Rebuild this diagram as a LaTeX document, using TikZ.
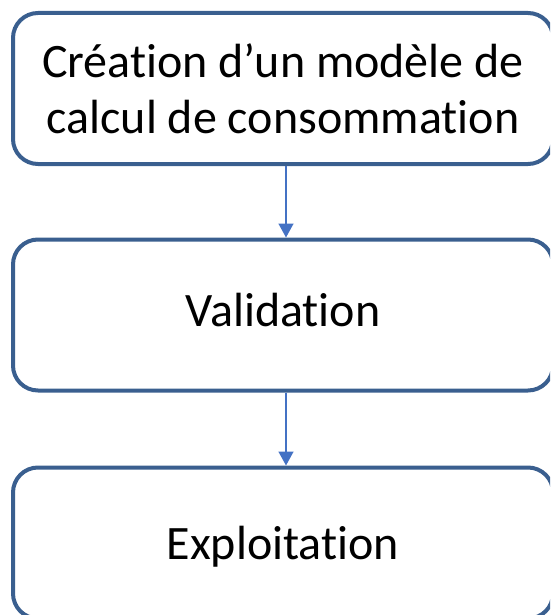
\documentclass[tikz,border=0pt]{standalone}
\usepackage{fontspec}
\setmainfont[Ligatures=NoCommon,RawFeature={-liga;-clig;-dlig}]{Carlito}
\usetikzlibrary{arrows.meta}
\definecolor{boxc}{HTML}{3A5F8F}
\definecolor{arr}{HTML}{4472C4}
\begin{document}
\begin{tikzpicture}[x=1pt,y=-1pt]
\useasboundingbox (0,0) rectangle (550,615);
\clip (0,0) rectangle (550,615);
\tikzset{
  box/.style={draw=boxc, line width=4pt, rounded corners=25pt, minimum width=540pt, minimum height=151pt, align=center, font=\fontsize{48}{56}\selectfont, inner sep=0pt, text=black},
  conn/.style={draw=arr, line width=1.5pt, -{Triangle[length=14pt,width=15pt]}}
}
\node[box] (a) at (283,88.5) {Créat\kern0pt ion d’un modèle de\\calcul de consommat\kern0pt ion};
\node[box] (b) at (283,315) {\raisebox{5pt}[\height][\depth]{Validat\kern0pt ion}};
\node[box] (c) at (283,543) {\raisebox{-4pt}[\height][\depth]{Exploitat\kern0pt ion}};
\draw[conn] (a.south -| 286,0) -- (b.north -| 286,0);
\draw[conn] (b.south -| 286,0) -- (c.north -| 286,0);
\end{tikzpicture}
\end{document}
